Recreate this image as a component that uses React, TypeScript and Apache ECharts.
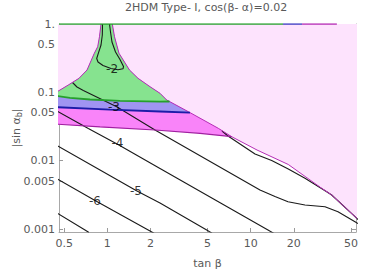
import React, { useEffect, useRef } from "react";
import * as echarts from "echarts";

const X_MIN = 0.4604;
const X_MAX = 54.25;
const Y_MIN = 0.000904;
const Y_MAX = 1;

const xTickValues = [0.5, 1, 2, 5, 10, 20, 50];
const xTickLabels = ["0.5", "1", "2", "5", "10", "20", "50"];
const yTickValues = [0.001, 0.005, 0.01, 0.05, 0.1, 0.5, 1];
const yTickLabels = ["0.001", "0.005", "0.01", "0.05", "0.1", "0.5", "1."];

// boundary of the allowed funnel (tan beta, |sin alpha_b|)
const funnelLeft = [
  [0.904, 1], [0.882, 0.652], [0.857, 0.4654], [0.8116, 0.3726], [0.722, 0.2122],
  [0.6348, 0.1605], [0.5346, 0.128], [0.468, 0.1082], [0.4458, 0.1018],
];
const funnelRight = [
  [1.084, 1], [1.1226, 0.652], [1.207, 0.3726], [1.428, 0.2122], [1.637, 0.1605],
  [1.986, 0.1209], [2.331, 0.0968], [2.596, 0.0772], [3.672, 0.0521], [5.943, 0.02976],
  [7.372, 0.02242],
];
const boundaryTail = [
  [11.07, 0.01432], [18.29, 0.00879], [31.27, 0.00394], [36.72, 0.003144],
  [53.38, 0.001513], [56, 0.001377],
];
const bandBottom = [
  [0.4458, 0.03417], [0.8895, 0.0312], [2.151, 0.0281], [4.43, 0.02514], [7.372, 0.02242],
];
const blueEdge = [[0.4458, 0.0606], [1.044, 0.0559], [2.331, 0.0524], [3.773, 0.0504]];
const greenEdge = [
  [0.4458, 0.0884], [0.5495, 0.0832], [0.7574, 0.0785], [1.226, 0.0752],
  [2.331, 0.0731], [2.716, 0.0734],
];
const topGreen = [[0.4604, 1], [16.8, 1]];
const topBlue = [[16.8, 1], [22.8, 1]];
const topMagenta = [[22.8, 1], [39.9, 1]];

// contours
const contourM2 = [
  [0.926, 1], [0.923, 0.6903], [0.904, 0.4929], [0.8654, 0.3726], [0.8435, 0.3128],
  [0.8612, 0.2779], [0.9333, 0.247], [1.061, 0.2233], [1.187, 0.2136], [1.286, 0.2211],
  [1.297, 0.2388], [1.226, 0.3024], [1.141, 0.3892], [1.078, 0.5452], [1.053, 0.7637],
  [1.036, 1],
];
const contourM3 = [
  [0.572, 0.1393], [0.6146, 0.1197], [0.6804, 0.1064], [1.163, 0.0616], [2.151, 0.0281],
  [11.61, 0.00372], [14.77, 0.00299], [18.2, 0.002507], [23.91, 0.002244],
  [32.97, 0.00212], [40.62, 0.00179], [53.38, 0.00128], [56, 0.0012],
];
const contourM4 = [
  [0.4318, 0.0551], [0.737, 0.02956], [1.187, 0.01724], [2.331, 0.00768],
  [13.2, 0.000966], [14.54, 0.000859],
];
const contourM5 = [
  [0.4318, 0.0173], [0.8895, 0.0073], [1.598, 0.003622], [2.331, 0.0024],
  [4.934, 0.000966], [5.373, 0.000868],
];
const contourM6 = [[0.4318, 0.00563], [0.821, 0.00261], [1.986, 0.000934], [2.117, 0.000865]];
const contourM7 = [[0.4318, 0.00178], [0.699, 0.000966], [0.7455, 0.000888]];
const contourD = [
  [6.308, 0.02717], [6.945, 0.02296], [10.72, 0.01252], [14.01, 0.01005], [18.29, 0.00755],
  [23.91, 0.00552], [33.88, 0.003513], [36.72, 0.003144], [53.38, 0.001513], [56, 0.001377],
];

const contourLabels = ["-2", "-3", "-4", "-5", "-6"];
const contourLabelPos = [
  [1.079, 0.2195], [1.113, 0.062], [1.178, 0.01795], [1.585, 0.0036], [0.821, 0.00257],
];

const FONT = "DejaVu Sans";
const GRAY = "#595959";
const lg = (v: number) => Math.log10(v);

function nearestLabel(v: number, vals: number[], labels: string[]) {
  let best = 0;
  let bd = Infinity;
  vals.forEach((t, i) => {
    const d = Math.abs(lg(t) - v);
    if (d < bd) { bd = d; best = i; }
  });
  return labels[best];
}

function polySeries(pts: number[][], fill: string) {
  return {
    type: "custom",
    coordinateSystem: "cartesian2d",
    clip: true,
    silent: true,
    z: 1,
    lineStyle: { width: 0.01 },
    data: [[0, 0]],
    renderItem: (_p: any, api: any) => ({
      type: "polygon",
      shape: { points: pts.map((p) => api.coord([lg(p[0]), lg(p[1])])) },
      style: { fill, stroke: null },
    }),
  };
}

function lineSeries(pts: number[][], color: string, width: number, z = 2) {
  return {
    type: "line",
    data: pts.map((p) => [lg(p[0]), lg(p[1])]),
    showSymbol: false,
    symbol: "none",
    silent: true,
    clip: true,
    z,
    lineStyle: { color, width },
  };
}

export default function App() {
  const ref = useRef<HTMLDivElement>(null);
  useEffect(() => {
    document.body.style.margin = "0";
    if (!ref.current) return;
    const chart = echarts.init(ref.current, undefined, { renderer: "svg" });

    const pinkPoly = [[0.44, 1.1], ...bandBottom, ...boundaryTail, [56, 1.1]];
    const funnelPoly = [...funnelLeft, ...bandBottom, ...[...funnelRight].reverse()];
    const blueEnd = blueEdge[blueEdge.length - 1][1];
    const bluePoly = [
      ...funnelLeft, ...blueEdge,
      ...funnelRight.filter((p) => p[1] > blueEnd).reverse(),
    ];
    const greenEnd = greenEdge[greenEdge.length - 1][1];
    const greenPoly = [
      ...funnelLeft, ...greenEdge,
      ...funnelRight.filter((p) => p[1] > greenEnd).reverse(),
    ];

    const xTicks = xTickValues.map(lg);
    const yTicks = yTickValues.map(lg);
    const tickStyle = { color: "#9a9a9a", width: 1 };

    const xBase = {
      type: "value",
      min: lg(X_MIN),
      max: lg(X_MAX),
      nameMoveOverlap: false,
      splitLine: { show: false },
      axisLine: { show: true, onZero: false, lineStyle: { color: "#a8a8a8", width: 1 } },
      axisTick: { show: true, inside: true, length: 4, lineStyle: tickStyle, customValues: xTicks },
    };
    const yBase = {
      type: "value",
      min: lg(Y_MIN),
      max: lg(Y_MAX),
      nameMoveOverlap: false,
      splitLine: { show: false },
      axisLine: { show: true, onZero: false, lineStyle: { color: "#a8a8a8", width: 1 } },
      axisTick: { show: true, inside: true, length: 4, lineStyle: tickStyle, customValues: yTicks },
    };

    const option: any = {
      animation: false,
      title: {
        text: "2HDM Type- I, cos(β- α)=0.02",
        left: 206,
        top: 2,
        padding: 0,
        textAlign: "center",
        textStyle: { fontFamily: FONT, fontSize: 11, fontWeight: "normal", color: GRAY },
      },
      grid: { left: 59, right: 26, top: 24, bottom: 43, containLabel: false, outerBoundsMode: "none" },
      xAxis: [
        {
          ...xBase,
          position: "bottom",
          name: "tan β",
          nameLocation: "middle",
          nameGap: 26,
          nameTextStyle: { fontFamily: FONT, fontSize: 11, color: GRAY },
          axisLabel: {
            customValues: xTicks,
            formatter: (v: number) => nearestLabel(v, xTickValues, xTickLabels),
            fontFamily: FONT, fontSize: 11, color: GRAY, margin: 6,
            showMinLabel: true, showMaxLabel: true,
          },
        },
        { ...xBase, position: "top", axisLabel: { show: false } },
      ],
      yAxis: [
        {
          ...yBase,
          position: "left",
          name: "|sin α{sub|b}|",
          nameLocation: "middle",
          nameGap: 36,
          nameTextStyle: {
            fontFamily: FONT, fontSize: 11, color: GRAY,
            rich: { sub: { fontFamily: FONT, fontSize: 8, color: GRAY, padding: [6, 0, 0, 0] } },
          },
          axisLabel: {
            customValues: yTicks,
            formatter: (v: number) => nearestLabel(v, yTickValues, yTickLabels),
            fontFamily: FONT, fontSize: 11, color: GRAY, margin: 4,
            showMinLabel: true, showMaxLabel: true,
          },
        },
        { ...yBase, position: "right", axisLabel: { show: false } },
      ],
      series: [
        polySeries(pinkPoly, "#fde3fd"),
        polySeries(funnelPoly, "#f984f9"),
        polySeries(bluePoly, "#a094f2"),
        polySeries(greenPoly, "#86e38f"),
        lineSeries(contourM2, "#1a1a1a", 1.1, 3),
        lineSeries(contourM3, "#1a1a1a", 1.1, 3),
        lineSeries(contourM4, "#1a1a1a", 1.1, 3),
        lineSeries(contourM5, "#1a1a1a", 1.1, 3),
        lineSeries(contourM6, "#1a1a1a", 1.1, 3),
        lineSeries(contourM7, "#1a1a1a", 1.1, 3),
        lineSeries(contourD, "#1a1a1a", 1.1, 3),
        lineSeries(funnelLeft, "#b52db5", 1, 4),
        lineSeries([...funnelRight, ...boundaryTail], "#b52db5", 1, 4),
        lineSeries(bandBottom, "#a020a0", 1.2, 4),
        lineSeries(blueEdge, "#1c1ca8", 1.8, 4),
        lineSeries(greenEdge, "#26a02c", 1.8, 4),
        lineSeries(topGreen, "#26a02c", 1.6, 4),
        lineSeries(topBlue, "#3a3ac0", 1.6, 4),
        lineSeries(topMagenta, "#b52db5", 1.6, 4),
        {
          type: "scatter",
          symbolSize: 0,
          silent: true,
          z: 6,
          data: contourLabelPos.map((p, i) => ({ value: [lg(p[0]), lg(p[1])], name: contourLabels[i] })),
          label: {
            show: true, position: "inside", formatter: "{b}",
            color: "#000", fontSize: 12, fontFamily: FONT,
          },
        },
      ],
    };
    chart.setOption(option);
    return () => chart.dispose();
  }, []);
  return <div ref={ref} style={{ width: 382, height: 275 }} />;
}
